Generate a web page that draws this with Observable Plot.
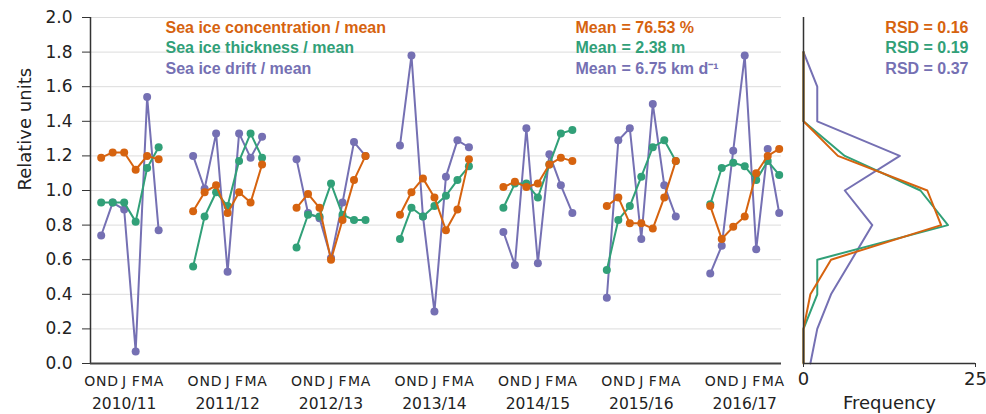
<!DOCTYPE html>
<html><head><meta charset="utf-8">
<script src="https://cdn.jsdelivr.net/npm/d3@7"></script>
<script src="https://cdn.jsdelivr.net/npm/@observablehq/plot@0.6"></script>
<style>
body{margin:0;background:#fff}
#chart{position:relative;width:986px;height:414px}
#chart svg{position:absolute;top:0}
</style>
</head><body><div id="chart"></div>
<script>
const seasons = ["2010/11","2011/12","2012/13","2013/14","2014/15","2015/16","2016/17"];
const months = ["O","N","D","J","F","M","A"];
const seriesNames = ["Sea ice concentration / mean","Sea ice thickness / mean","Sea ice drift / mean"];
const seriesColors = ["#d6630f","#31a078","#7570b3"];
const meanLabels = ["= 76.53 %","= 2.38 m","= 6.75 km d\u207B\u00B9"];
const rsdLabels = ["RSD = 0.16","RSD = 0.19","RSD = 0.37"];
const yTicks = [0,0.2,0.4,0.6,0.8,1.0,1.2,1.4,1.6,1.8,2.0];

const concentration = [
 null,1.19,1.22,1.22,1.12,1.20,1.18,
 0.88,0.99,1.03,0.87,0.99,0.93,1.15,
 0.90,0.98,0.90,0.60,0.83,1.06,1.20,
 0.86,0.99,1.07,0.96,0.77,0.89,1.18,
 1.02,1.05,1.02,1.04,1.15,1.19,1.17,
 0.91,0.96,0.81,0.81,0.78,0.96,1.17,
 0.91,0.72,0.79,0.85,1.10,1.20,1.24];
const thickness = [
 null,0.93,0.93,0.93,0.82,1.13,1.25,
 0.56,0.85,0.99,0.91,1.17,1.33,1.19,
 0.67,0.86,0.85,1.04,0.86,0.83,0.83,
 0.72,0.90,0.85,0.91,0.97,1.06,1.14,
 0.90,1.04,1.04,0.96,1.15,1.33,1.35,
 0.54,0.83,0.91,1.08,1.25,1.29,1.17,
 0.92,1.13,1.16,1.14,1.06,1.17,1.09];
const drift = [
 null,0.74,0.93,0.89,0.07,1.54,0.77,
 1.20,1.01,1.33,0.53,1.33,1.19,1.31,
 1.18,0.87,0.84,0.61,0.93,1.28,1.20,
 1.26,1.78,0.85,0.30,1.08,1.29,1.25,
 0.76,0.57,1.36,0.58,1.21,1.03,0.87,
 0.38,1.29,1.36,0.72,1.50,1.03,0.85,
 0.52,0.68,1.23,1.78,0.66,1.24,0.87];

const histBins = [0.0,0.2,0.4,0.6,0.8,1.0,1.2,1.4,1.6,1.8];
const freqConcentration = [0,0,1,4,20,18,5,0,0,0];
const freqThickness = [0,0,2,2,21,17,6,0,0,0];
const freqDrift = [1,2,4,7,10,6,14,2,2,0];

const seriesValues = [concentration, thickness, drift];
const seriesFreq = [freqConcentration, freqThickness, freqDrift];
const SEASON_STEP = 9;

const rows = [];
seriesValues.forEach((vals, k) => vals.forEach((v, i) => {
  if (v == null) return;
  const s = Math.floor(i / months.length), m = i % months.length;
  rows.push({k, series: seriesNames[k], season: seasons[s], idx: s * SEASON_STEP + m, value: v});
}));
const monthTicks = [], seasonTicks = [];
seasons.forEach((s, si) => {
  months.forEach((m, mi) => monthTicks.push(si * SEASON_STEP + mi));
  seasonTicks.push(si * SEASON_STEP + (months.length - 1) / 2);
});
const xDomain = [0.07, 60.2];
const drawOrder = [2, 1, 0];

const seriesMarks = [];
drawOrder.forEach(k => {
  const d = rows.filter(r => r.k === k);
  seriesMarks.push(Plot.line(d, {x: "idx", y: "value", z: "season", stroke: seriesColors[k], strokeWidth: 2}));
  seriesMarks.push(Plot.dot(d, {x: "idx", y: "value", fill: seriesColors[k], r: 4}));
});

const legendMarks = [];
seriesNames.forEach((name, k) => {
  const base = {frameAnchor: "top-left", dy: 10 + 20.7 * k, textAnchor: "start", lineAnchor: "middle",
    fill: seriesColors[k], fontWeight: "bold", fontSize: 16, fontFamily: "Liberation Sans", text: d => d};
  legendMarks.push(Plot.text([name], {...base, dx: 75}));
  legendMarks.push(Plot.text(["Mean"], {...base, dx: 485}));
  legendMarks.push(Plot.text([meanLabels[k]], {...base, dx: 531}));
});

const main = Plot.plot({
  width: 795, height: 414,
  marginLeft: 90, marginRight: 14, marginTop: 17, marginBottom: 51,
  style: {fontFamily: "DejaVu Sans", background: "transparent", color: "#222", overflow: "visible"},
  x: {domain: xDomain, axis: null},
  y: {domain: [0, 2], axis: null},
  marks: [
    Plot.gridY(yTicks, {stroke: "#dcdcdc", strokeOpacity: 1}),
    Plot.axisY(yTicks, {tickSize: 8, tickPadding: 10, fontSize: 17, tickFormat: d => d.toFixed(1), label: null, stroke: "#333"}),
    Plot.ruleX([xDomain[0]], {stroke: "#333", strokeWidth: 1.5}),
    Plot.ruleY([0], {stroke: "#444", strokeWidth: 2}),
    Plot.axisX(monthTicks, {tickSize: 0, tickPadding: 13, fontSize: 14, tickFormat: i => months[i % SEASON_STEP], label: null}),
    Plot.axisX(seasonTicks, {tickSize: 0, tickPadding: 34, fontSize: 15.5, tickFormat: i => seasons[Math.round((i - 3) / SEASON_STEP)], label: null}),
    Plot.text(["Relative units"], {frameAnchor: "left", rotate: -90, dx: -65, fontSize: 18, text: d => d, fill: "#222"}),
    ...seriesMarks,
    ...legendMarks
  ]
});

const histRows = [];
seriesFreq.forEach((f, k) => f.forEach((c, i) => histRows.push({k, y: histBins[i], freq: c})));
const histMarks = drawOrder.map(k => Plot.line(histRows.filter(r => r.k === k), {x: "freq", y: "y", stroke: seriesColors[k], strokeWidth: 2}));

const hist = Plot.plot({
  width: 191, height: 414,
  marginLeft: 8, marginRight: 11, marginTop: 17, marginBottom: 51,
  style: {fontFamily: "DejaVu Sans", background: "transparent", color: "#222", overflow: "visible"},
  x: {domain: [0, 25], axis: null},
  y: {domain: [0, 2], axis: null},
  marks: [
    ...histMarks,
    Plot.ruleX([0], {stroke: "#333", strokeWidth: 1.5}),
    Plot.ruleY([0], {stroke: "#333", strokeWidth: 1.5}),
    Plot.axisX([0, 25], {tickSize: 4, tickPadding: 5, fontSize: 18, label: null, stroke: "#333"}),
    Plot.text(["Frequency"], {frameAnchor: "bottom", dy: 40, fontSize: 18, lineAnchor: "middle", text: d => d, fill: "#222"}),
    ...rsdLabels.map((t, k) => Plot.text([t], {frameAnchor: "top-right", dx: -7, dy: 10 + 20.7 * k, textAnchor: "end", lineAnchor: "middle",
      fill: seriesColors[k], fontWeight: "bold", fontSize: 16, fontFamily: "Liberation Sans", text: d => d}))
  ]
});

const chart = document.getElementById("chart");
main.style.left = "0px";
hist.style.left = "795px";
chart.appendChild(main);
chart.appendChild(hist);
</script>
</body></html>
